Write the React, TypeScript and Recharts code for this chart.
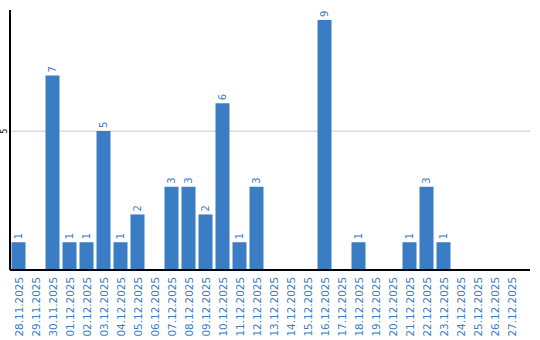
import React from "react";
import { BarChart, Bar, XAxis, YAxis, CartesianGrid, LabelList } from "recharts";

const dates = [
  "28.11.2025", "29.11.2025", "30.11.2025", "01.12.2025", "02.12.2025", "03.12.2025",
  "04.12.2025", "05.12.2025", "06.12.2025", "07.12.2025", "08.12.2025", "09.12.2025",
  "10.12.2025", "11.12.2025", "12.12.2025", "13.12.2025", "14.12.2025", "15.12.2025",
  "16.12.2025", "17.12.2025", "18.12.2025", "19.12.2025", "20.12.2025", "21.12.2025",
  "22.12.2025", "23.12.2025", "24.12.2025", "25.12.2025", "26.12.2025", "27.12.2025",
];
const counts = [1, 0, 7, 1, 1, 5, 1, 2, 0, 3, 3, 2, 6, 1, 3, 0, 0, 0, 9, 0, 1, 0, 0, 1, 3, 1, 0, 0, 0, 0];
const yTicks = [5];
const yMax = 9;
const padTop = 10;

const data = dates.map((d, i) => ({ date: d, value: counts[i] }));

const BLUE = "#3b7dc4";
const FONT = "DejaVu Sans, sans-serif";

const XTick = (props: any) => {
  const { x, payload } = props;
  return (
    <text
      transform={`translate(${x},277) rotate(-90)`}
      textAnchor="end"
      dominantBaseline="central"
      fontSize={10.4}
      fontFamily={FONT}
      fill={BLUE}
    >
      {payload.value}
    </text>
  );
};

const YTick = (props: any) => {
  const { y, payload } = props;
  return (
    <text
      transform={`translate(4.5,${y}) rotate(-90)`}
      textAnchor="middle"
      dominantBaseline="central"
      fontSize={8}
      fontFamily={FONT}
      fill="#000"
    >
      {payload.value}
    </text>
  );
};

const ValueLabel = (props: any) => {
  const { x, y, width, value } = props;
  if (!value) return null;
  return (
    <text
      transform={`translate(${x + width / 2},${y - 3}) rotate(-90)`}
      textAnchor="start"
      dominantBaseline="central"
      fontSize={10}
      fontFamily={FONT}
      fill={BLUE}
    >
      {value}
    </text>
  );
};

export default function App() {
  return (
    <div style={{ position: "absolute", left: 0, top: 0, background: "#fff" }}>
      <BarChart
        width={540}
        height={340}
        data={data}
        margin={{ top: 10, right: 10, bottom: 0, left: 0 }}
        barCategoryGap={1.5}
      >
        <CartesianGrid
          vertical={false}
          stroke="#c8c8c8"
          horizontalCoordinatesGenerator={(p: any) =>
            yTicks.map(
              (t) =>
                p.offset.top + padTop + (p.offset.height - padTop) * (1 - t / yMax)
            )
          }
        />
        <XAxis
          dataKey="date"
          interval={0}
          height={70}
          tick={<XTick />}
          tickLine={false}
          axisLine={{ stroke: "#000", strokeWidth: 2 }}
          padding={{ left: 0, right: 10 }}
        />
        <YAxis
          width={10}
          domain={[0, yMax]}
          ticks={yTicks}
          tick={<YTick />}
          tickLine={false}
          axisLine={{ stroke: "#000", strokeWidth: 2 }}
          padding={{ top: padTop, bottom: 0 }}
        />
        <Bar dataKey="value" fill={BLUE} isAnimationActive={false}>
          <LabelList dataKey="value" content={<ValueLabel />} />
        </Bar>
      </BarChart>
    </div>
  );
}
